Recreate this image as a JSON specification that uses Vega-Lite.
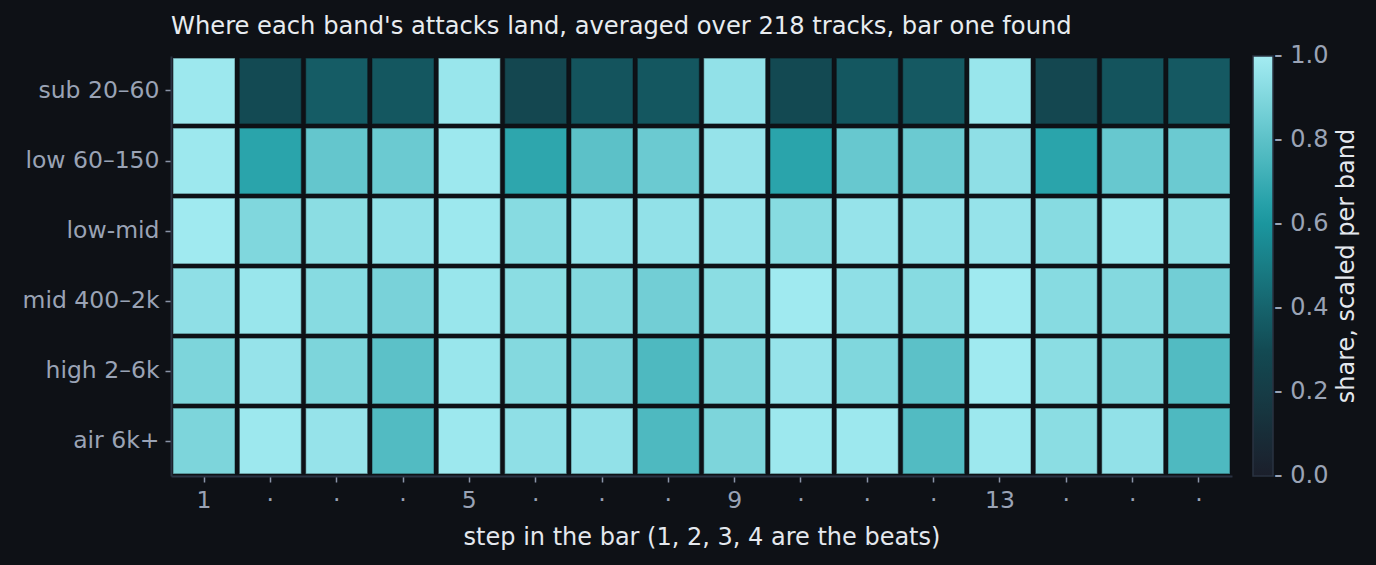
{
  "$schema": "https://vega.github.io/schema/vega-lite/v6.json",
  "autosize": {"type": "none"},
  "width": 1061,
  "height": 420,
  "padding": {"left": 171, "top": 56, "right": 144, "bottom": 89},
  "background": "#0e1116",
  "title": {
    "text": "Where each band's attacks land, averaged over 218 tracks, bar one found",
    "anchor": "start",
    "frame": "group",
    "font": "DejaVu Sans",
    "fontSize": 24.2,
    "fontWeight": "normal",
    "color": "#e8ecf0",
    "offset": 17
  },
  "config": {
    "view": {"stroke": null},
    "axis": {
      "labelFont": "DejaVu Sans",
      "titleFont": "DejaVu Sans",
      "labelFontSize": 23.5,
      "titleFontSize": 24,
      "titleFontWeight": "normal",
      "labelColor": "#9aa3b5",
      "titleColor": "#e4e8ee",
      "domainColor": "#2a3342",
      "domainWidth": 2,
      "tickColor": "#8a94a8",
      "tickSize": 6,
      "tickWidth": 1.5,
      "grid": false
    },
    "legend": {
      "labelFont": "DejaVu Sans",
      "titleFont": "DejaVu Sans",
      "labelFontSize": 24,
      "titleFontSize": 24,
      "titleFontWeight": "normal",
      "labelColor": "#9aa3b5",
      "titleColor": "#e4e8ee"
    }
  },
  "data": {
    "values": [
      {"band": "sub 20–60", "step": 1, "share": 0.98},
      {"band": "sub 20–60", "step": 2, "share": 0.30},
      {"band": "sub 20–60", "step": 3, "share": 0.37},
      {"band": "sub 20–60", "step": 4, "share": 0.35},
      {"band": "sub 20–60", "step": 5, "share": 0.97},
      {"band": "sub 20–60", "step": 6, "share": 0.28},
      {"band": "sub 20–60", "step": 7, "share": 0.34},
      {"band": "sub 20–60", "step": 8, "share": 0.35},
      {"band": "sub 20–60", "step": 9, "share": 0.95},
      {"band": "sub 20–60", "step": 10, "share": 0.29},
      {"band": "sub 20–60", "step": 11, "share": 0.35},
      {"band": "sub 20–60", "step": 12, "share": 0.36},
      {"band": "sub 20–60", "step": 13, "share": 0.97},
      {"band": "sub 20–60", "step": 14, "share": 0.28},
      {"band": "sub 20–60", "step": 15, "share": 0.34},
      {"band": "sub 20–60", "step": 16, "share": 0.36},
      {"band": "low 60–150", "step": 1, "share": 0.98},
      {"band": "low 60–150", "step": 2, "share": 0.66},
      {"band": "low 60–150", "step": 3, "share": 0.82},
      {"band": "low 60–150", "step": 4, "share": 0.84},
      {"band": "low 60–150", "step": 5, "share": 0.98},
      {"band": "low 60–150", "step": 6, "share": 0.67},
      {"band": "low 60–150", "step": 7, "share": 0.80},
      {"band": "low 60–150", "step": 8, "share": 0.84},
      {"band": "low 60–150", "step": 9, "share": 0.96},
      {"band": "low 60–150", "step": 10, "share": 0.66},
      {"band": "low 60–150", "step": 11, "share": 0.83},
      {"band": "low 60–150", "step": 12, "share": 0.84},
      {"band": "low 60–150", "step": 13, "share": 0.94},
      {"band": "low 60–150", "step": 14, "share": 0.66},
      {"band": "low 60–150", "step": 15, "share": 0.83},
      {"band": "low 60–150", "step": 16, "share": 0.84},
      {"band": "low-mid", "step": 1, "share": 0.99},
      {"band": "low-mid", "step": 2, "share": 0.90},
      {"band": "low-mid", "step": 3, "share": 0.93},
      {"band": "low-mid", "step": 4, "share": 0.95},
      {"band": "low-mid", "step": 5, "share": 0.98},
      {"band": "low-mid", "step": 6, "share": 0.92},
      {"band": "low-mid", "step": 7, "share": 0.95},
      {"band": "low-mid", "step": 8, "share": 0.95},
      {"band": "low-mid", "step": 9, "share": 0.96},
      {"band": "low-mid", "step": 10, "share": 0.92},
      {"band": "low-mid", "step": 11, "share": 0.96},
      {"band": "low-mid", "step": 12, "share": 0.95},
      {"band": "low-mid", "step": 13, "share": 0.96},
      {"band": "low-mid", "step": 14, "share": 0.92},
      {"band": "low-mid", "step": 15, "share": 0.97},
      {"band": "low-mid", "step": 16, "share": 0.93},
      {"band": "mid 400–2k", "step": 1, "share": 0.94},
      {"band": "mid 400–2k", "step": 2, "share": 0.97},
      {"band": "mid 400–2k", "step": 3, "share": 0.92},
      {"band": "mid 400–2k", "step": 4, "share": 0.88},
      {"band": "mid 400–2k", "step": 5, "share": 0.97},
      {"band": "mid 400–2k", "step": 6, "share": 0.93},
      {"band": "mid 400–2k", "step": 7, "share": 0.91},
      {"band": "mid 400–2k", "step": 8, "share": 0.86},
      {"band": "mid 400–2k", "step": 9, "share": 0.93},
      {"band": "mid 400–2k", "step": 10, "share": 0.99},
      {"band": "mid 400–2k", "step": 11, "share": 0.94},
      {"band": "mid 400–2k", "step": 12, "share": 0.92},
      {"band": "mid 400–2k", "step": 13, "share": 0.99},
      {"band": "mid 400–2k", "step": 14, "share": 0.92},
      {"band": "mid 400–2k", "step": 15, "share": 0.91},
      {"band": "mid 400–2k", "step": 16, "share": 0.86},
      {"band": "high 2–6k", "step": 1, "share": 0.89},
      {"band": "high 2–6k", "step": 2, "share": 0.96},
      {"band": "high 2–6k", "step": 3, "share": 0.89},
      {"band": "high 2–6k", "step": 4, "share": 0.80},
      {"band": "high 2–6k", "step": 5, "share": 0.97},
      {"band": "high 2–6k", "step": 6, "share": 0.91},
      {"band": "high 2–6k", "step": 7, "share": 0.88},
      {"band": "high 2–6k", "step": 8, "share": 0.76},
      {"band": "high 2–6k", "step": 9, "share": 0.89},
      {"band": "high 2–6k", "step": 10, "share": 0.96},
      {"band": "high 2–6k", "step": 11, "share": 0.90},
      {"band": "high 2–6k", "step": 12, "share": 0.80},
      {"band": "high 2–6k", "step": 13, "share": 0.99},
      {"band": "high 2–6k", "step": 14, "share": 0.93},
      {"band": "high 2–6k", "step": 15, "share": 0.89},
      {"band": "high 2–6k", "step": 16, "share": 0.77},
      {"band": "air 6k+", "step": 1, "share": 0.89},
      {"band": "air 6k+", "step": 2, "share": 0.98},
      {"band": "air 6k+", "step": 3, "share": 0.96},
      {"band": "air 6k+", "step": 4, "share": 0.77},
      {"band": "air 6k+", "step": 5, "share": 0.98},
      {"band": "air 6k+", "step": 6, "share": 0.94},
      {"band": "air 6k+", "step": 7, "share": 0.95},
      {"band": "air 6k+", "step": 8, "share": 0.76},
      {"band": "air 6k+", "step": 9, "share": 0.89},
      {"band": "air 6k+", "step": 10, "share": 0.98},
      {"band": "air 6k+", "step": 11, "share": 0.98},
      {"band": "air 6k+", "step": 12, "share": 0.77},
      {"band": "air 6k+", "step": 13, "share": 0.98},
      {"band": "air 6k+", "step": 14, "share": 0.93},
      {"band": "air 6k+", "step": 15, "share": 0.95},
      {"band": "air 6k+", "step": 16, "share": 0.76}
    ]
  },
  "mark": {"type": "rect", "stroke": "#0e1116", "strokeWidth": 1.2, "strokeOpacity": 0.45},
  "encoding": {
    "x": {
      "field": "step",
      "type": "ordinal",
      "title": "step in the bar (1, 2, 3, 4 are the beats)",
      "scale": {"paddingInner": 0.065, "paddingOuter": 0.03},
      "axis": {
        "labelAngle": 0,
        "labelExpr": "(datum.value - 1) % 4 == 0 ? datum.value : '·'",
        "labelPadding": 6,
        "titlePadding": 14
      }
    },
    "y": {
      "field": "band",
      "type": "nominal",
      "title": null,
      "sort": ["sub 20–60", "low 60–150", "low-mid", "mid 400–2k", "high 2–6k", "air 6k+"],
      "scale": {"paddingInner": 0.06, "paddingOuter": 0.03},
      "axis": {"labelPadding": 6}
    },
    "color": {
      "field": "share",
      "type": "quantitative",
      "title": "share, scaled per band",
      "scale": {
        "domain": [0, 0.3, 0.62, 1],
        "range": ["#1b1f2b", "#134a53", "#1c9ba3", "#a4ecf2"],
        "interpolate": "rgb"
      },
      "legend": {
        "orient": "right",
        "offset": 21,
        "direction": "vertical",
        "gradientLength": 420,
        "gradientThickness": 20,
        "gradientStrokeColor": "#2a3342",
        "gradientStrokeWidth": 1.5,
        "values": [0, 0.2, 0.4, 0.6, 0.8, 1],
        "labelExpr": "'- ' + format(datum.value, '.1f')",
        "labelOffset": 1,
        "titleOrient": "right",
        "titleLimit": 600,
        "titlePadding": 8,
        "titleAnchor": "middle",
        "encode": {
          "title": {"update": {"angle": {"value": -90}, "dy": {"value": 23}}},
          "labels": {"update": {"baseline": {"value": "middle"}}}
        }
      }
    }
  }
}
